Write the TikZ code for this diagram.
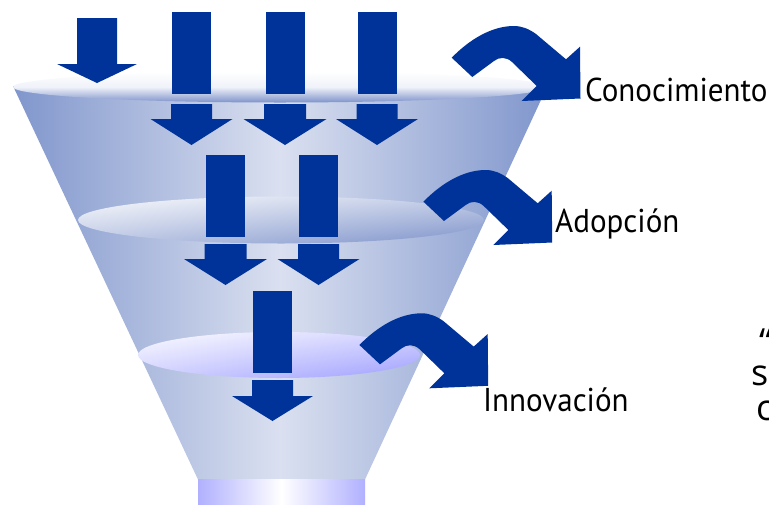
\documentclass[tikz,border=0pt]{standalone}
\usepackage{fontspec}
\usetikzlibrary{shadings}
\newfontfamily\lblfont{PT Sans}[FakeStretch=0.94]
\newfontfamily\sidefont{Open Sans}
\definecolor{arrowblue}{RGB}{0,51,153}
\definecolor{funnelEdge}{RGB}{128,150,204}
\definecolor{funnelMid}{RGB}{218,224,240}
\definecolor{rimBlue}{RGB}{125,146,202}
\definecolor{lavender}{RGB}{176,176,255}
\tikzset{
  arrowfill/.style={fill=arrowblue, draw=none},
  lbl/.style={inner sep=0pt, anchor=base west, font=\lblfont\fontsize{33}{38}\selectfont},
  sidelbl/.style={inner sep=0pt, anchor=base west, font=\sidefont\fontsize{36}{40}\selectfont},
}
\newcommand\dnarrow[6]{\fill[arrowfill] ({#1-#5},#2) -- ({#1+#5},#2) -- ({#1+#5},#3) -- ({#1+#6},#3) -- (#1,#4) -- ({#1-#6},#3) -- ({#1-#5},#3) -- cycle;}
\newcommand\shaftbar[4]{\fill[arrowfill] (#1,#3) rectangle (#2,#4);}
\newcommand\bentarrow[2]{%
  \begin{scope}[shift={(#1,#2)}]
  \fill[arrowfill] (451.7,57.7) .. controls (470,39) and (492,26) .. (514,26)
     .. controls (522,26) and (529,29) .. (536,34) -- (566,59.3) -- (580,46.7)
     -- (580.5,98.5) -- (521.7,101) -- (536.7,86) -- (512,62)
     .. controls (506,56.5) and (499,57) .. (494,61) -- (472.3,77) -- cycle;
  \end{scope}}
\begin{document}
\begin{tikzpicture}[x=1pt,y=-1pt]
\useasboundingbox (0,0) rectangle (769,504);
\fill[white] (0,0) rectangle (769,504);
\clip (0,0) rectangle (769,504);
% funnel body
\shade[left color=funnelEdge, right color=funnelEdge, middle color=funnelMid]
  (13,86) -- (547,87) -- (365,479.5) -- (198,479.5) -- cycle;
% spout
\shade[left color=lavender, right color=lavender, middle color=white]
  (198,479.5) rectangle (365,505);
% rims
\shade[top color=white, bottom color=rimBlue, middle color=white!88!rimBlue]
  (280,87) ellipse [x radius=267pt, y radius=15.5pt];
\shade[upper left=white!95!rimBlue, upper right=white!55!rimBlue, lower left=white!50!rimBlue, lower right=rimBlue]
  (281,220) ellipse [x radius=203pt, y radius=23.5pt];
\shade[upper left=white!95!lavender, upper right=white!45!lavender, lower left=white!40!lavender, lower right=lavender!90!blue]
  (279,355) ellipse [x radius=141pt, y radius=23pt];
% straight arrows, top row
\dnarrow{97}{18}{64}{83}{20}{40}
\shaftbar{172}{211}{12}{94}
\shaftbar{266}{305}{12}{94}
\shaftbar{358}{397}{12}{94}
\dnarrow{191.5}{104}{119}{145}{20.5}{41}
\dnarrow{285}{104}{119}{145}{21}{41.5}
\dnarrow{377}{104}{119}{145}{20.5}{41}
% middle row
\shaftbar{206}{245}{155}{237}
\shaftbar{299}{338}{155}{237}
\dnarrow{225.5}{244}{259}{285}{21}{41.5}
\dnarrow{318.5}{244}{259}{285}{20.5}{41}
% bottom row
\shaftbar{253}{292}{291}{373}
\dnarrow{272.5}{380}{396}{421}{20.5}{40.5}
% bent arrows
\bentarrow{0}{0}
\bentarrow{-28.3}{144}
\bentarrow{-92.3}{287.3}
% labels
\node[lbl] (con) at (585,101) {Conocimiento};
\node[lbl] (ado) at (555,232) {Adopción};
\node[lbl] (inn) at (483,411.5) {Innovación};
\node[sidelbl] (q) at (759,354) {“};
\node[sidelbl] (s) at (751,385) {s};
\node[sidelbl] (c) at (756,420) {c};
\end{tikzpicture}
\end{document}
